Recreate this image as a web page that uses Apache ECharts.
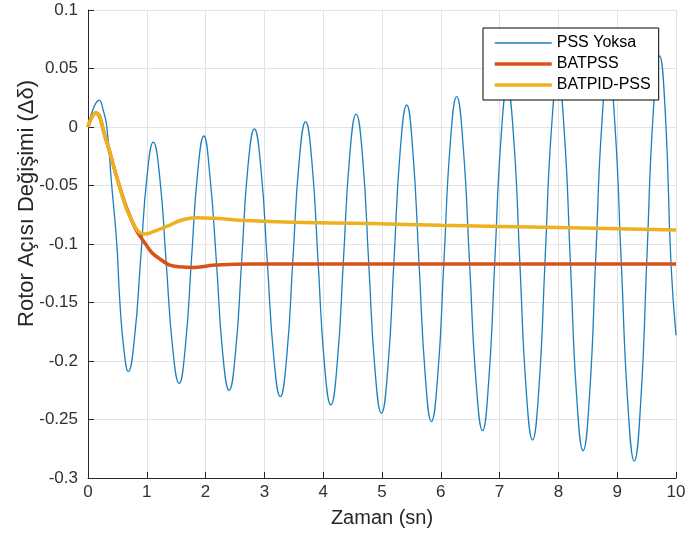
<!DOCTYPE html>
<html>
<head>
<meta charset="utf-8">
<script src="https://cdn.jsdelivr.net/npm/echarts@6/dist/echarts.min.js"></script>
<style>
  html, body { margin: 0; padding: 0; background: #fff; }
  #chart { width: 686px; height: 540px; }
</style>
</head>
<body>
<div id="chart"></div>
<script>
// 读图估计的数据 [时间 s, Δδ]
const seriesNames = ["PSS Yoksa", "BATPSS", "BATPID-PSS"];
const seriesColors = ["#1b80bd", "#d95319", "#edb120"];
const seriesWidths = [1.3, 3.5, 3.5];

const pssYoksa = [
    [0, 0], [0.1, 0.017], [0.19, 0.023], [0.255, 0.015], [0.32, 0.0], [0.40, -0.048],
    [0.49, -0.10], [0.54, -0.148], [0.61, -0.19], [0.685, -0.209],
    [0.791, -0.180], [0.898, -0.111], [1.004, -0.042], [1.11, -0.013],
    [1.22, -0.043], [1.33, -0.116], [1.44, -0.189], [1.55, -0.219],
    [1.655, -0.188], [1.76, -0.113], [1.865, -0.039], [1.97, -0.0077],
    [2.07, -0.040], [2.185, -0.116], [2.29, -0.193], [2.40, -0.225],
    [2.51, -0.192], [2.615, -0.113], [2.72, -0.034], [2.83, -0.0017],
    [2.94, -0.035], [3.05, -0.116], [3.16, -0.197], [3.27, -0.2305],
    [3.38, -0.196], [3.485, -0.113], [3.59, -0.030], [3.70, 0.0045],
    [3.81, -0.031], [3.915, -0.117], [4.02, -0.202], [4.13, -0.2376],
    [4.24, -0.201], [4.345, -0.113], [4.45, -0.025], [4.56, 0.011],
    [4.67, -0.026], [4.775, -0.117], [4.88, -0.207], [4.99, -0.2447],
    [5.10, -0.206], [5.205, -0.113], [5.31, -0.020], [5.42, 0.0188],
    [5.525, -0.021], [5.63, -0.1165], [5.735, -0.212], [5.84, -0.2518],
    [5.95, -0.211], [6.055, -0.113], [6.16, -0.015], [6.27, 0.0259],
    [6.38, -0.016], [6.49, -0.117], [6.60, -0.218], [6.71, -0.2595],
    [6.815, -0.217], [6.92, -0.113], [7.025, -0.009], [7.13, 0.034],
    [7.24, -0.010], [7.345, -0.117], [7.45, -0.223], [7.56, -0.2675],
    [7.67, -0.222], [7.775, -0.112], [7.88, -0.003], [7.99, 0.043],
    [8.10, -0.004], [8.205, -0.117], [8.31, -0.230], [8.42, -0.2767],
    [8.53, -0.229], [8.635, -0.112], [8.74, 0.004], [8.85, 0.052],
    [8.96, 0.003], [9.07, -0.117], [9.18, -0.236], [9.29, -0.2855],
    [9.40, -0.235], [9.505, -0.112], [9.61, 0.010], [9.72, 0.0607],
    [9.82, 0.010], [9.915, -0.117], [10, -0.178]
];

const batPss = [
    [0, 0], [0.06, 0.008], [0.13, 0.012], [0.29, -0.008], [0.52, -0.048], [0.74, -0.0795],
    [0.97, -0.0994], [1.2, -0.112], [1.54, -0.1194], [1.82, -0.12], [2.16, -0.118],
    [2.8, -0.117], [4, -0.117], [10, -0.117]
];

const batPidPss = [
    [0, 0], [0.06, 0.008], [0.13, 0.012], [0.29, -0.008], [0.52, -0.048], [0.74, -0.0795],
    [0.97, -0.0915], [1.11, -0.0895], [1.34, -0.085], [1.6, -0.0795], [1.85, -0.0775],
    [2.16, -0.078], [2.7, -0.080], [3.5, -0.0815], [4.8, -0.0825], [6, -0.084],
    [8, -0.086], [10, -0.088]
];

const FONT = "'Liberation Sans', Arial, sans-serif";
const AXIS_COLOR = "#262626";

const chart = echarts.init(document.getElementById("chart"));

const seriesData = [pssYoksa, batPss, batPidPss];

chart.setOption({
    animation: false,
    backgroundColor: "#fff",
    textStyle: { fontFamily: FONT },
    grid: { left: 88, right: 10, top: 10, bottom: 62, outerBoundsMode: "none" },
    legend: {
        orient: "vertical",
        left: 483,
        top: 28,
        padding: [7, 8, 7, 10],
        itemWidth: 57,
        itemHeight: 16,
        itemGap: 5,
        backgroundColor: "#fff",
        borderColor: "#000",
        borderWidth: 1,
        borderRadius: 0,
        itemStyle: { opacity: 0 },
        textStyle: { fontSize: 16, color: "#000", fontFamily: FONT },
        data: seriesNames.map((n, i) => ({
            name: n,
            itemStyle: { opacity: 0 },
            lineStyle: { width: seriesWidths[i], color: seriesColors[i] },
        })),
    },
    xAxis: {
        type: "value",
        min: 0,
        max: 10,
        interval: 1,
        name: "Zaman (sn)",
        nameLocation: "middle",
        nameGap: 30,
        nameMoveOverlap: false,
        nameTextStyle: { fontSize: 20, color: AXIS_COLOR },
        axisLine: { show: true, onZero: false, lineStyle: { color: AXIS_COLOR, width: 1 } },
        axisTick: { show: true, inside: true, length: 6, lineStyle: { color: AXIS_COLOR } },
        axisLabel: { fontSize: 17, color: "#303030", margin: 6 },
        splitLine: { show: true, lineStyle: { color: "#e2e2e2", width: 1 } },
    },
    yAxis: {
        type: "value",
        min: -0.3,
        max: 0.1,
        interval: 0.05,
        name: "Rotor Açısı Değişimi (Δδ)",
        nameLocation: "middle",
        nameGap: 50,
        nameMoveOverlap: false,
        nameTextStyle: { fontSize: 22, color: AXIS_COLOR, padding: [0, 0, 0, 81] },
        axisLine: { show: true, lineStyle: { color: AXIS_COLOR, width: 1 } },
        axisTick: { show: true, inside: true, length: 6, lineStyle: { color: AXIS_COLOR } },
        axisLabel: {
            fontSize: 17,
            color: "#303030",
            margin: 10,
            formatter: (v) => String(+v.toFixed(2)),
        },
        splitLine: { show: true, lineStyle: { color: "#e2e2e2", width: 1 } },
    },
    series: seriesNames.map((n, i) => ({
        name: n,
        type: "line",
        data: seriesData[i],
        smooth: true,
        symbol: "none",
        lineStyle: { color: seriesColors[i], width: seriesWidths[i] },
        itemStyle: { color: seriesColors[i] },
    })),
});
</script>
</body>
</html>
